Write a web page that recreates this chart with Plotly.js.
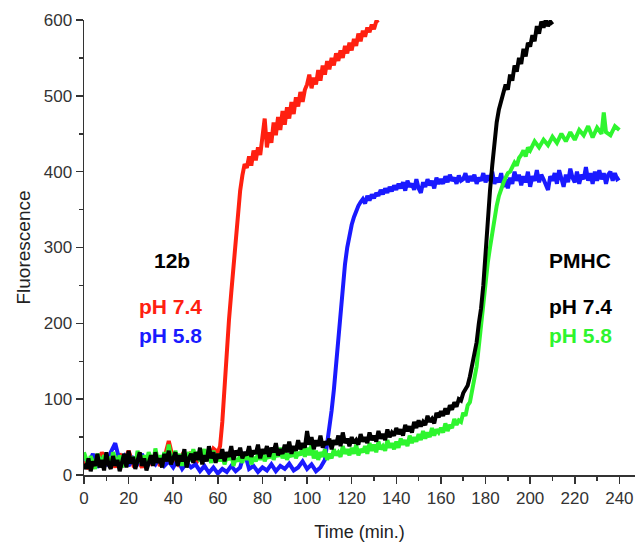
<!DOCTYPE html>
<html>
<head>
<meta charset="utf-8">
<script src="https://cdn.plot.ly/plotly-3.0.1.min.js"></script>
<style>html,body{margin:0;padding:0;background:#fff;}#chart{width:635px;height:543px;}</style>
</head>
<body>
<div id="chart"></div>
<script>
// 12b, pH 7.4 (red)
const redT = [0,2,4,6,8,10,12,14,16,18,20,22,24,26,28,30,32,34,36,38,40,42,44,46,48,50,52,54,56,58,60,
  61,62,63,64,65,66,67,68,69,70,71,72,73,74,75,76,77,78,79,80,81,82,83,84,85,86,87,88,89,90,
  91,92,93,94,95,96,97,98,99,100,101,102,103,104,105,106,107,108,109,110,111,112,113,114,115,
  116,117,118,119,120,121,122,123,124,125,126,127,128,129,130,131,132];
const redV = [18,8,25,12,30,15,22,10,28,18,32,14,20,10,24,16,28,12,22,45,20,14,26,18,30,15,24,33,20,35,30,
  38,70,120,165,205,240,275,310,345,375,395,410,405,420,408,428,415,432,422,445,470,432,452,438,465,448,472,455,480,462,
  485,470,492,476,498,486,505,492,508,515,528,510,524,515,534,520,540,528,546,535,550,540,556,546,560,
  550,566,556,570,560,575,566,582,572,586,578,590,584,594,588,598,600];

// 12b, pH 5.8 (blue)
const blueT = [0,2,4,6,8,10,12,14,16,18,20,22,24,26,28,30,32,34,36,38,40,42,44,46,48,50,52,54,56,58,60,
  62,64,66,68,70,72,74,76,78,80,82,84,86,88,90,92,94,96,98,100,102,104,106,108,
  109,110,111,112,113,114,115,116,117,118,119,120,121,122,123,124,125,126,127,128,129,
  130,131,132,133,134,135,136,137,138,139,140,141,142,143,144,145,146,147,148,149,
  150,151,152,153,154,155,156,157,158,159,160,161,162,163,164,165,166,167,168,169,
  170,171,172,173,174,175,176,177,178,179,180,181,182,183,184,185,186,187,188,189,
  190,191,192,193,194,195,196,197,198,199,200,201,202,203,204,205,206,207,208,209,
  210,211,212,213,214,215,216,217,218,219,220,221,222,223,224,225,226,227,228,229,
  230,231,232,233,234,235,236,237,238,239,240];
const blueV = [25,15,28,10,20,12,30,42,18,25,12,22,15,28,10,20,14,24,12,18,10,20,8,16,10,14,5,12,3,10,2,
  8,4,12,5,10,30,8,12,4,10,6,14,5,12,8,15,6,10,18,8,14,5,10,20,
  40,60,85,112,145,178,215,250,278,300,318,330,340,348,355,360,364,358,368,362,370,
  365,372,368,376,370,378,372,380,374,382,
  376,384,378,386,375,388,380,384,376,390,
  378,372,386,380,390,382,388,378,392,384,
  390,384,394,386,396,388,392,384,395,388,
  390,398,386,394,388,396,384,392,388,398,
  386,395,388,400,384,392,386,398,380,390,
  378,392,384,400,388,396,382,394,386,400,
  380,394,388,402,386,396,390,384,376,394,
  388,398,384,402,390,380,396,386,404,392,
  386,400,384,396,390,406,388,398,384,400,
  388,402,390,398,384,396,400,388,398,390,392];

// PMHC, pH 7.4 (black)
const blackT = [0,1,2,3,4,5,6,7,8,9,10,11,12,13,14,15,16,17,18,19,20,21,22,23,24,25,26,27,28,29,
  30,31,32,33,34,35,36,37,38,39,40,41,42,43,44,45,46,47,48,49,50,51,52,53,54,55,56,57,58,59,
  60,61,62,63,64,65,66,67,68,69,70,71,72,73,74,75,76,77,78,79,80,81,82,83,84,85,86,87,88,89,
  90,91,92,93,94,95,96,97,98,99,100,101,102,103,104,105,106,107,108,109,110,111,112,113,114,115,116,117,118,119,
  120,121,122,123,124,125,126,127,128,129,130,131,132,133,134,135,136,137,138,139,
  140,141,142,143,144,145,146,147,148,149,150,151,152,153,154,155,156,157,158,159,
  160,161,162,163,164,165,166,167,168,169,170,171,
  172,173,174,175,176,177,178,179,180,181,182,183,184,185,186,187,
  188,189,190,191,192,193,194,195,196,197,198,199,200,201,202,203,204,205,206,207,208,209,210];
const blackV = [15,8,22,5,18,12,28,10,20,6,30,14,8,25,12,20,5,18,28,10,
  32,15,24,8,20,30,12,22,6,18,26,12,30,16,22,10,28,18,32,14,
  24,30,12,26,18,34,10,22,28,16,30,20,36,14,26,18,38,22,30,16,
  28,22,34,18,30,24,38,20,32,26,36,22,30,26,38,24,32,28,40,22,
  34,28,38,24,36,30,42,26,34,28,40,30,44,28,38,32,46,34,42,36,
  58,40,50,34,46,38,52,36,44,40,48,34,46,40,52,38,56,42,48,38,
  50,42,46,40,54,44,50,42,56,46,52,44,58,48,54,46,60,50,56,52,
  62,54,60,52,66,58,64,56,70,62,72,64,70,66,78,70,74,68,82,76,
  84,78,88,80,92,86,96,90,100,98,108,112,
  118,130,145,155,175,200,220,250,295,335,375,408,440,465,482,492,
  505,515,508,528,520,540,532,550,542,562,552,570,565,580,572,592,582,598,590,600,592,598,594];

// PMHC, pH 5.8 (green)
const greenT = [0,1,2,3,4,5,6,7,8,9,10,11,12,13,14,15,16,17,18,19,20,21,22,23,24,25,26,27,28,29,
  30,31,32,33,34,35,36,37,38,39,40,41,42,43,44,45,46,47,48,49,50,51,52,53,54,55,56,57,58,59,
  60,61,62,63,64,65,66,67,68,69,70,71,72,73,74,75,76,77,78,79,80,81,82,83,84,85,86,87,88,89,
  90,91,92,93,94,95,96,97,98,99,100,101,102,103,104,105,106,107,108,109,110,111,112,113,114,115,116,117,118,119,
  120,121,122,123,124,125,126,127,128,129,130,131,132,133,134,135,136,137,138,139,
  140,141,142,143,144,145,146,147,148,149,150,151,152,153,154,155,156,157,158,159,
  160,161,162,163,164,165,166,167,168,169,170,171,172,173,174,175,
  176,177,178,179,180,181,182,183,184,185,186,187,188,189,190,191,192,193,194,195,196,197,
  198,199,200,202,204,206,208,210,212,214,216,218,220,222,224,226,228,230,232,233,234,236,238,240];
const greenV = [30,22,12,25,18,8,28,20,15,26,18,24,12,30,20,14,26,10,22,16,
  28,18,24,12,32,20,15,26,18,30,22,14,35,20,26,16,30,22,40,24,
  20,32,16,28,12,26,22,30,18,34,24,30,18,28,34,20,26,16,32,22,
  28,18,26,14,24,20,30,12,22,18,26,16,28,20,30,14,24,18,28,20,
  30,18,26,22,34,20,30,24,36,22,32,20,28,24,34,22,30,26,38,24,
  36,26,40,22,32,20,30,24,34,20,28,22,34,26,30,24,38,28,34,26,
  36,28,40,26,34,30,38,28,42,32,40,30,44,34,38,32,46,36,42,34,
  44,36,48,40,46,38,52,42,50,44,54,46,58,48,56,50,62,52,60,56,
  62,56,68,58,66,62,74,66,72,70,82,78,92,96,112,125,
  143,170,200,230,255,280,300,320,338,355,368,378,385,392,398,400,405,412,408,418,422,428,
  420,432,428,440,432,442,435,446,438,450,440,452,442,455,448,460,445,458,450,478,452,448,460,455];

const xTickVals = [0,20,40,60,80,100,120,140,160,180,200,220,240];
const yTickVals = [0,100,200,300,400,500,600];

const labels = [
  {text:'12b', color:'#000000', x:39.5, y:283},
  {text:'pH 7.4', color:'#ff2010', x:38.6, y:222},
  {text:'pH 5.8', color:'#1a1aff', x:38.6, y:183.5},
  {text:'PMHC', color:'#000000', x:222.4, y:283},
  {text:'pH 7.4', color:'#000000', x:222.4, y:222},
  {text:'pH 5.8', color:'#2ef52e', x:222.4, y:183.5}
];

function tr(x, y, color, name) {
  return {x:x, y:y, type:'scatter', mode:'lines', name:name,
    line:{color:color, width:4}, hoverinfo:'skip'};
}

const data = [
  tr(redT, redV, '#ff2010', '12b pH 7.4'),
  tr(blueT, blueV, '#1a1aff', '12b pH 5.8'),
  tr(greenT, greenV, '#2ef52e', 'PMHC pH 5.8'),
  tr(blackT, blackV, '#000000', 'PMHC pH 7.4')
];

const fontFam = '"Liberation Sans", Arial, Helvetica, sans-serif';
const axisCommon = {
  showline:true, linecolor:'#333', linewidth:1.5, mirror:false,
  ticks:'outside', ticklen:7, tickwidth:1.5, tickcolor:'#333',
  showgrid:false, zeroline:false,
  tickfont:{family:fontFam, size:17, color:'#333'}
};

const layout = {
  width:635, height:543,
  margin:{l:84, r:0, t:20, b:68},
  paper_bgcolor:'#fff', plot_bgcolor:'#fff',
  showlegend:false,
  xaxis: Object.assign({}, axisCommon, {
    range:[0,247], tickmode:'array', tickvals:xTickVals,
    minor:{dtick:10, tick0:0, ticks:'outside', ticklen:4, tickwidth:1.5, tickcolor:'#333'},
    title:{text:'Time (min.)', font:{family:fontFam, size:18, color:'#222'}, standoff:18}
  }),
  yaxis: Object.assign({}, axisCommon, {
    range:[0,600], tickmode:'array', tickvals:yTickVals,
    minor:{dtick:50, tick0:0, ticks:'outside', ticklen:4, tickwidth:1.5, tickcolor:'#333'},
    title:{text:'Fluorescence', font:{family:fontFam, size:19, color:'#222'}, standoff:8}
  }),
  annotations: labels.map(l => ({
    x:l.x, y:l.y, xref:'x', yref:'y', text:'<b>'+l.text+'</b>', showarrow:false,
    xanchor:'center', yanchor:'middle',
    font:{family:fontFam, size:21, color:l.color}
  }))
};

Plotly.newPlot('chart', data, layout, {displayModeBar:false, staticPlot:true});
</script>
</body>
</html>
